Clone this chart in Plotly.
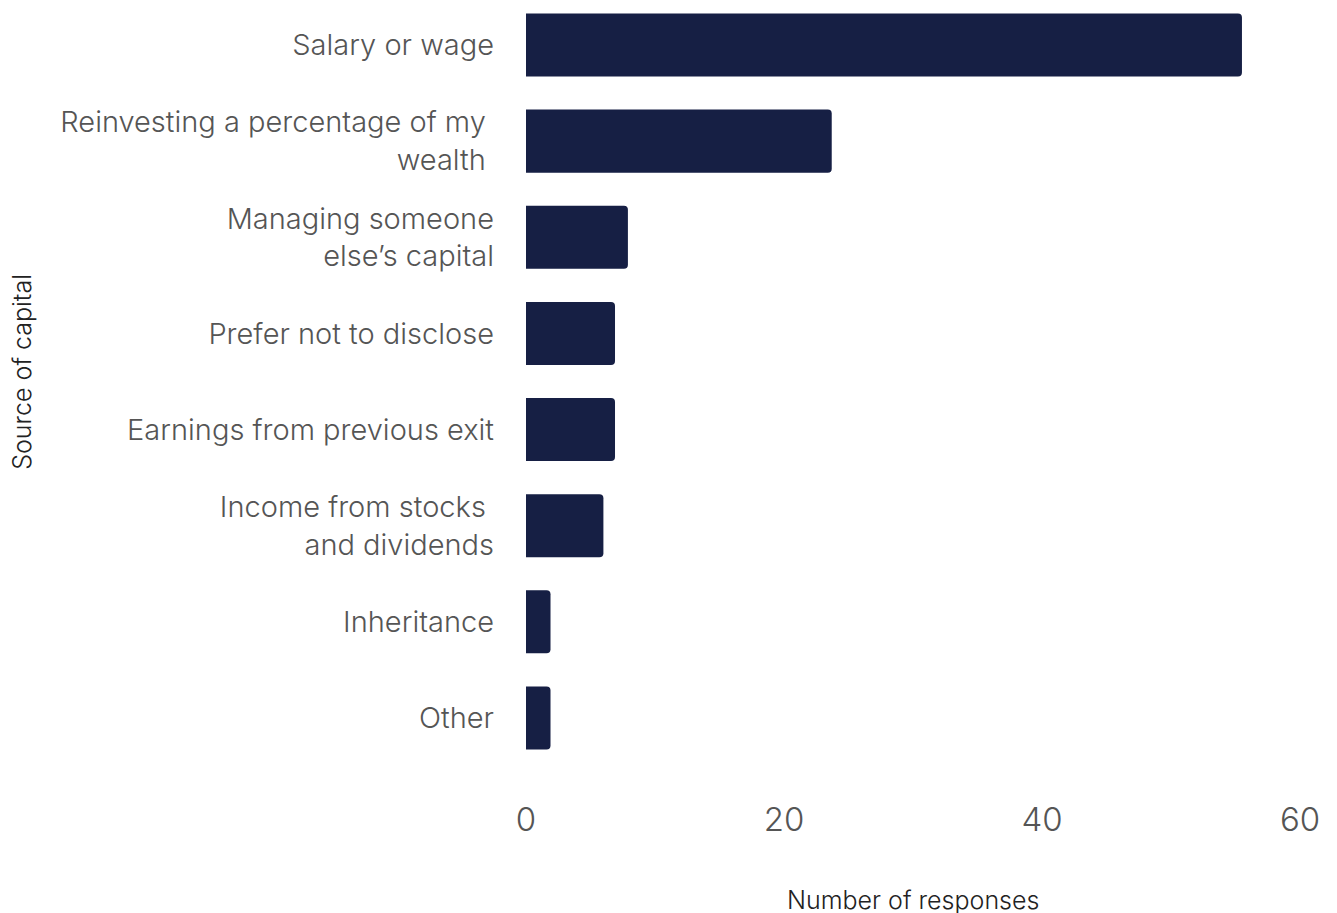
import plotly.graph_objects as go

categories = [
    "Salary or wage",
    "Reinvesting a percentage of my <br>wealth ",
    "Managing someone<br>else’s capital",
    "Prefer not to disclose",
    "Earnings from previous exit",
    "Income from stocks <br>and dividends",
    "Inheritance",
    "Other",
]
values = [55.5, 23.7, 7.9, 6.9, 6.9, 6.0, 1.9, 1.9]
x_ticks = [0, 20, 40, 60]

bar_color = "#161f44"
text_color = "#555555"
font_family = "Inter, Roboto, sans-serif"

fig = go.Figure(
    go.Bar(
        x=values,
        y=categories,
        orientation="h",
        marker=dict(color=bar_color, cornerradius=4, line=dict(width=0)),
    )
)

fig.update_layout(
    width=1337,
    height=913,
    paper_bgcolor="white",
    plot_bgcolor="white",
    margin=dict(l=518, r=45, t=0, b=155, autoexpand=False),
    bargap=0.344,
    showlegend=False,
    font=dict(family=font_family, color=text_color),
    xaxis=dict(
        range=[0, 60],
        tickvals=x_ticks,
        showgrid=False,
        zeroline=False,
        showline=False,
        ticks="",
        tickfont=dict(size=33, color=text_color, family=font_family, weight=300),
        ticklabelstandoff=31,
        automargin=False,
        fixedrange=True,
    ),
    yaxis=dict(
        categoryorder="array",
        categoryarray=categories[::-1],
        range=[-0.5, 7.385],
        showgrid=False,
        zeroline=False,
        showline=False,
        ticks="",
        tickfont=dict(size=29, color=text_color, family=font_family, weight=300),
        ticklabelstandoff=31,
        automargin=False,
        fixedrange=True,
    ),
    annotations=[
        dict(
            text="Number of responses",
            xref="paper", yref="paper",
            x=0.5, y=-0.177,
            yanchor="middle", xanchor="center",
            showarrow=False,
            font=dict(size=25, color="#222222", family=font_family, weight=300),
        ),
        dict(
            text="Source of capital",
            xref="paper", yref="paper",
            x=0, xshift=-504, y=0.52,
            xanchor="center", yanchor="middle",
            textangle=-90,
            showarrow=False,
            font=dict(size=25, color="#222222", family=font_family, weight=300),
        ),
    ],
)

fig.write_html("out.html")
